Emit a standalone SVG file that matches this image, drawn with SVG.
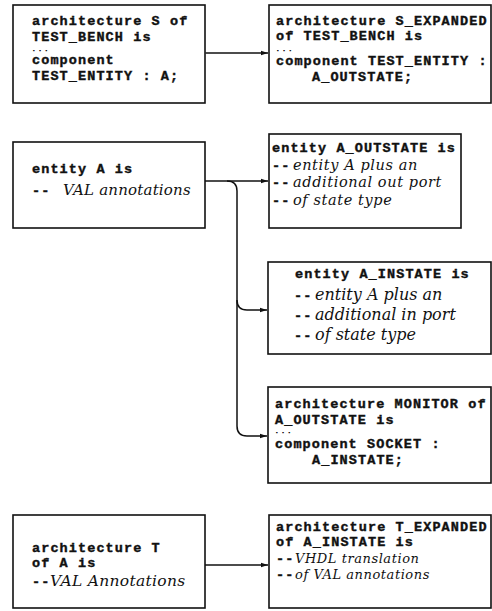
<svg xmlns="http://www.w3.org/2000/svg" width="492" height="611" viewBox="0 0 492 611">
<style>
.box{fill:#fff;stroke:#111;stroke-width:1.6}
.t{font-family:"Liberation Mono","DejaVu Sans Mono",monospace;font-weight:bold;font-size:13.5px;letter-spacing:1.1px;fill:#111;stroke:#111;stroke-width:0.4}
.d{font-size:6px;letter-spacing:2.6px;stroke-width:0.5}
.i{font-family:"DejaVu Serif","Liberation Serif",serif;font-style:italic;font-weight:normal;letter-spacing:0;stroke:none}
.c{fill:none;stroke:#111;stroke-width:1.5}
</style>
<defs>
<marker id="ah" markerWidth="8" markerHeight="6" refX="7" refY="3" orient="auto" markerUnits="userSpaceOnUse">
<path d="M0,0.8 L7,3 L0,5.2 Z" fill="#111"/>
</marker>
</defs>
<rect width="492" height="611" fill="#fff"/>
<g id="connectors">
<path class="c" d="M205.5,53 H268" marker-end="url(#ah)"/>
<path class="c" d="M205,181 H268" marker-end="url(#ah)"/>
<path class="c" d="M227,181 Q237,181 237,191 V300 Q237,310 247,310 H267" marker-end="url(#ah)"/>
<path class="c" d="M237,300 V426 Q237,436 247,436 H267" marker-end="url(#ah)"/>
<path class="c" d="M205,565 H268" marker-end="url(#ah)"/>
</g>
<g id="arch-S">
<rect class="box" x="13" y="5" width="192" height="98"/>
<text class="t"><tspan x="32" y="25">architecture S of</tspan><tspan x="32" y="40.5">TEST_BENCH is</tspan><tspan class="d" x="32" y="50.9">...</tspan><tspan x="32" y="64">component</tspan><tspan x="32" y="80">TEST_ENTITY : A;</tspan></text>
</g>
<g id="arch-S-expanded">
<rect class="box" x="269" y="5" width="222" height="98"/>
<text class="t"><tspan x="276" y="24.5">architecture S_EXPANDED</tspan><tspan x="276" y="40">of TEST_BENCH is</tspan><tspan class="d" x="276" y="50.5">...</tspan><tspan x="276" y="65">component TEST_ENTITY :</tspan><tspan x="312" y="80.5">A_OUTSTATE;</tspan></text>
</g>
<g id="entity-A">
<rect class="box" x="13" y="142" width="192" height="86"/>
<text class="t"><tspan x="32" y="173">entity A is</tspan><tspan x="32" y="195">--</tspan><tspan class="i" x="63" y="195" style="font-size:15px;letter-spacing:0.2px">VAL annotations</tspan></text>
</g>
<g id="entity-A-outstate">
<rect class="box" x="269" y="134" width="192" height="94"/>
<text class="t"><tspan x="272" y="169.6">--</tspan><tspan class="i" x="293" y="169.6" style="font-size:14.5px;letter-spacing:0.6px">entity A plus an</tspan><tspan x="272" y="187.2">--</tspan><tspan class="i" x="293" y="187.2" style="font-size:14.5px;letter-spacing:0.6px">additional out port</tspan><tspan x="272" y="204.8">--</tspan><tspan class="i" x="293" y="204.8" style="font-size:14.5px;letter-spacing:0.6px">of state type</tspan><tspan x="272" y="152">entity A_OUTSTATE is</tspan></text>
</g>
<g id="entity-A-instate">
<rect class="box" x="268" y="262" width="223" height="92"/>
<text class="t"><tspan x="295" y="278">entity A_INSTATE is</tspan><tspan x="294" y="300">--</tspan><tspan class="i" x="315" y="300" style="font-size:16px">entity A plus an</tspan><tspan x="294" y="320">--</tspan><tspan class="i" x="315" y="320" style="font-size:16px">additional in port</tspan><tspan x="294" y="340">--</tspan><tspan class="i" x="315" y="340" style="font-size:16px">of state type</tspan></text>
</g>
<g id="arch-monitor">
<rect class="box" x="268" y="387" width="223" height="96"/>
<text class="t"><tspan x="275" y="408">architecture MONITOR of</tspan><tspan x="275" y="424">A_OUTSTATE is</tspan><tspan class="d" x="275" y="433.2">...</tspan><tspan x="275" y="447.5">component SOCKET :</tspan><tspan x="312" y="463.5">A_INSTATE;</tspan></text>
</g>
<g id="arch-T">
<rect class="box" x="13" y="515" width="192" height="93"/>
<text class="t"><tspan x="32" y="551.5">architecture T</tspan><tspan x="32" y="567">of A is</tspan><tspan x="32" y="586">--</tspan><tspan class="i" x="50" y="586" style="font-size:15.5px;letter-spacing:0.3px">VAL Annotations</tspan></text>
</g>
<g id="arch-T-expanded">
<rect class="box" x="269" y="515" width="222" height="93"/>
<text class="t"><tspan x="276" y="530.5">architecture T_EXPANDED</tspan><tspan x="276" y="546">of A_INSTATE is</tspan><tspan x="276" y="562.5">--</tspan><tspan class="i" x="295" y="562.5" style="font-size:13px;letter-spacing:0.55px">VHDL translation</tspan><tspan x="276" y="578.7">--</tspan><tspan class="i" x="295" y="578.7" style="font-size:13px;letter-spacing:0.55px">of VAL annotations</tspan></text>
</g>
</svg>
